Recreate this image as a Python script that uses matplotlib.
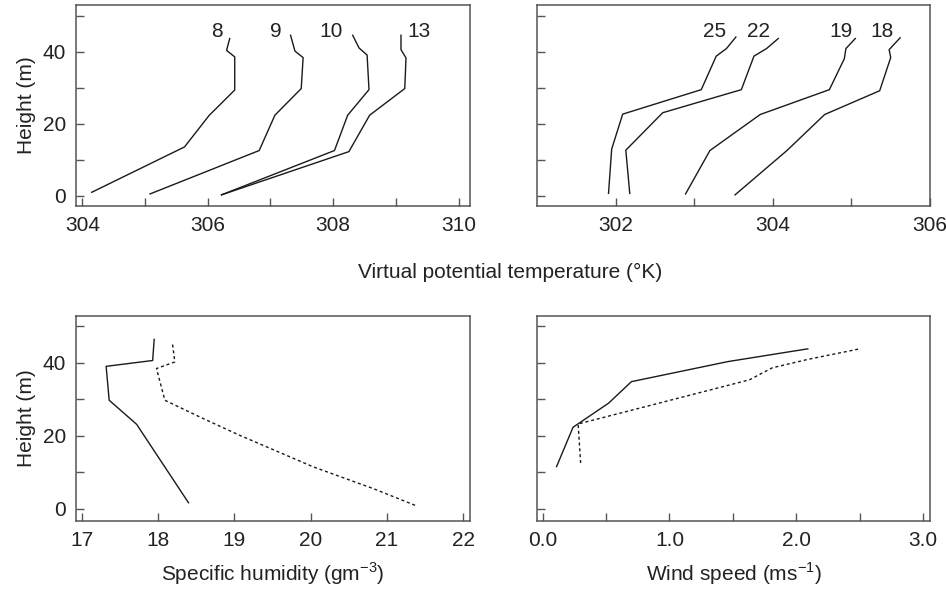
import numpy as np
import matplotlib
matplotlib.use("Agg")
import matplotlib.pyplot as plt

plt.rcParams['font.family'] = ['Liberation Sans', 'DejaVu Sans']
plt.rcParams['mathtext.fontset'] = 'custom'
plt.rcParams['mathtext.rm'] = 'Liberation Sans'
FS = 15
plt.rcParams['font.size'] = FS

# virtual potential temperature profiles, left panel (labels 8, 9, 10, 13)
vpt_left = {
    "8":  ([304.15, 305.63, 306.02, 306.43, 306.43, 306.30, 306.35],
           [1.0, 13.6, 22.3, 29.4, 38.6, 40.4, 43.7]),
    "9":  ([305.08, 306.82, 307.07, 307.49, 307.52, 307.39, 307.32],
           [0.55, 12.6, 22.4, 29.8, 38.4, 40.2, 44.6]),
    "10": ([306.22, 308.02, 308.23, 308.57, 308.54, 308.41, 308.31],
           [0.3, 12.6, 22.4, 29.5, 39.1, 41.1, 44.6]),
    "13": ([306.22, 308.25, 308.58, 309.14, 309.16, 309.08, 309.08],
           [0.3, 12.3, 22.4, 29.8, 38.3, 40.6, 44.6]),
}
label_x_left = {"8": 306.15, "9": 307.09, "10": 307.97, "13": 309.36}

# right panel (labels 25, 22, 19, 18)
vpt_right = {
    "25": ([301.91, 301.95, 302.09, 303.09, 303.28, 303.41, 303.53],
           [0.7, 13.0, 22.7, 29.5, 38.8, 40.9, 44.1]),
    "22": ([302.18, 302.13, 302.60, 303.60, 303.76, 303.92, 304.07],
           [0.7, 12.7, 23.1, 29.5, 38.8, 40.9, 43.7]),
    "19": ([302.89, 303.20, 303.84, 304.72, 304.91, 304.93, 305.05],
           [0.55, 12.6, 22.6, 29.5, 38.1, 40.9, 43.7]),
    "18": ([303.52, 304.18, 304.66, 305.36, 305.50, 305.48, 305.62],
           [0.3, 12.6, 22.6, 29.2, 38.4, 40.6, 43.9]),
}
label_x_right = {"25": 303.26, "22": 303.82, "19": 304.87, "18": 305.39}

# specific humidity
hum_solid_x = [18.40, 17.72, 17.36, 17.32, 17.93, 17.95]
hum_solid_y = [1.6, 23.1, 29.7, 39.0, 40.6, 46.4]
hum_dash_x = [21.37, 20.82, 20.04, 19.55, 19.07, 18.55, 18.09, 17.98, 18.22, 18.19]
hum_dash_y = [0.9, 5.5, 11.4, 15.8, 20.1, 25.1, 29.7, 38.4, 40.2, 45.2]

# wind speed
wind_solid_x = [0.11, 0.24, 0.52, 0.70, 1.46, 2.09]
wind_solid_y = [11.5, 22.3, 28.9, 34.8, 40.3, 43.8]
wind_dash_x = [0.30, 0.28, 1.63, 1.81, 2.09, 2.50]
wind_dash_y = [12.5, 23.2, 35.3, 38.6, 40.9, 43.8]

W, H = 946, 594
fig = plt.figure(figsize=(W / 100, H / 100), dpi=100)


def px_axes(l, t, r, b):
    return fig.add_axes([l / W, 1 - b / H, (r - l) / W, (b - t) / H])


ax1 = px_axes(76, 5, 470, 206)
ax2 = px_axes(537, 5, 930, 206)
ax3 = px_axes(76, 316, 470, 521)
ax4 = px_axes(537, 316, 930, 521)

spine_c = "#555555"
text_c = "#222222"
line_c = "#1a1a1a"
dash = (0, (2.2, 2.0))

for ax in (ax1, ax2, ax3, ax4):
    for s in ax.spines.values():
        s.set_color(spine_c)
        s.set_linewidth(1.1)
    ax.tick_params(direction="in", length=6, width=1.0, color=spine_c,
                   labelcolor=text_c, labelsize=FS, pad=7)
    ax.set_yticks(np.arange(0, 51, 10))

for ax in (ax1, ax3):
    ax.set_yticklabels(["0", "", "20", "", "40", ""])
    ax.set_ylabel("Height (m)", labelpad=5, color=text_c)
for ax in (ax2, ax4):
    ax.set_yticklabels([])

# top left
for k, (xs, ys) in vpt_left.items():
    ax1.plot(xs, ys, color=line_c, lw=1.0)
    ax1.text(label_x_left[k], 44.2, k, ha="center", va="baseline", color=text_c)
ax1.set_xlim(303.9, 310.18)
ax1.set_ylim(-2.8, 53)
ax1.set_xticks(np.arange(304, 311, 1))
ax1.set_xticklabels(["304", "", "306", "", "308", "", "310"])

# top right
for k, (xs, ys) in vpt_right.items():
    ax2.plot(xs, ys, color=line_c, lw=1.0)
    ax2.text(label_x_right[k], 44.2, k, ha="center", va="baseline", color=text_c)
ax2.set_xlim(301, 306)
ax2.set_ylim(-2.8, 53)
ax2.set_xticks(np.arange(302, 307, 1))
ax2.set_xticklabels(["302", "", "304", "", "306"])

# bottom left
ax3.plot(hum_solid_x, hum_solid_y, color=line_c, lw=1.0)
ax3.plot(hum_dash_x, hum_dash_y, color=line_c, lw=1.0, linestyle=dash)
ax3.set_xlim(16.925, 22.09)
ax3.set_ylim(-3.4, 52.8)
ax3.set_xticks(np.arange(17, 23, 1))
ax3.set_xlabel(r"Specific humidity (gm$^{\mathregular{-3}}$)", color=text_c, labelpad=8)

# bottom right
ax4.plot(wind_solid_x, wind_solid_y, color=line_c, lw=1.0)
ax4.plot(wind_dash_x, wind_dash_y, color=line_c, lw=1.0, linestyle=dash)
ax4.set_xlim(-0.044, 3.053)
ax4.set_ylim(-3.4, 52.8)
ax4.set_xticks(np.arange(0, 3.01, 0.5))
ax4.set_xticklabels(["0.0", "", "1.0", "", "2.0", "", "3.0"])
ax4.set_xlabel(r"Wind speed (ms$^{\mathregular{-1}}$)", color=text_c, labelpad=8)

fig.text(510 / W, 1 - 272 / H, "Virtual potential temperature (°K)",
         ha="center", va="center", color=text_c)

fig.savefig("out.png", dpi=100)
